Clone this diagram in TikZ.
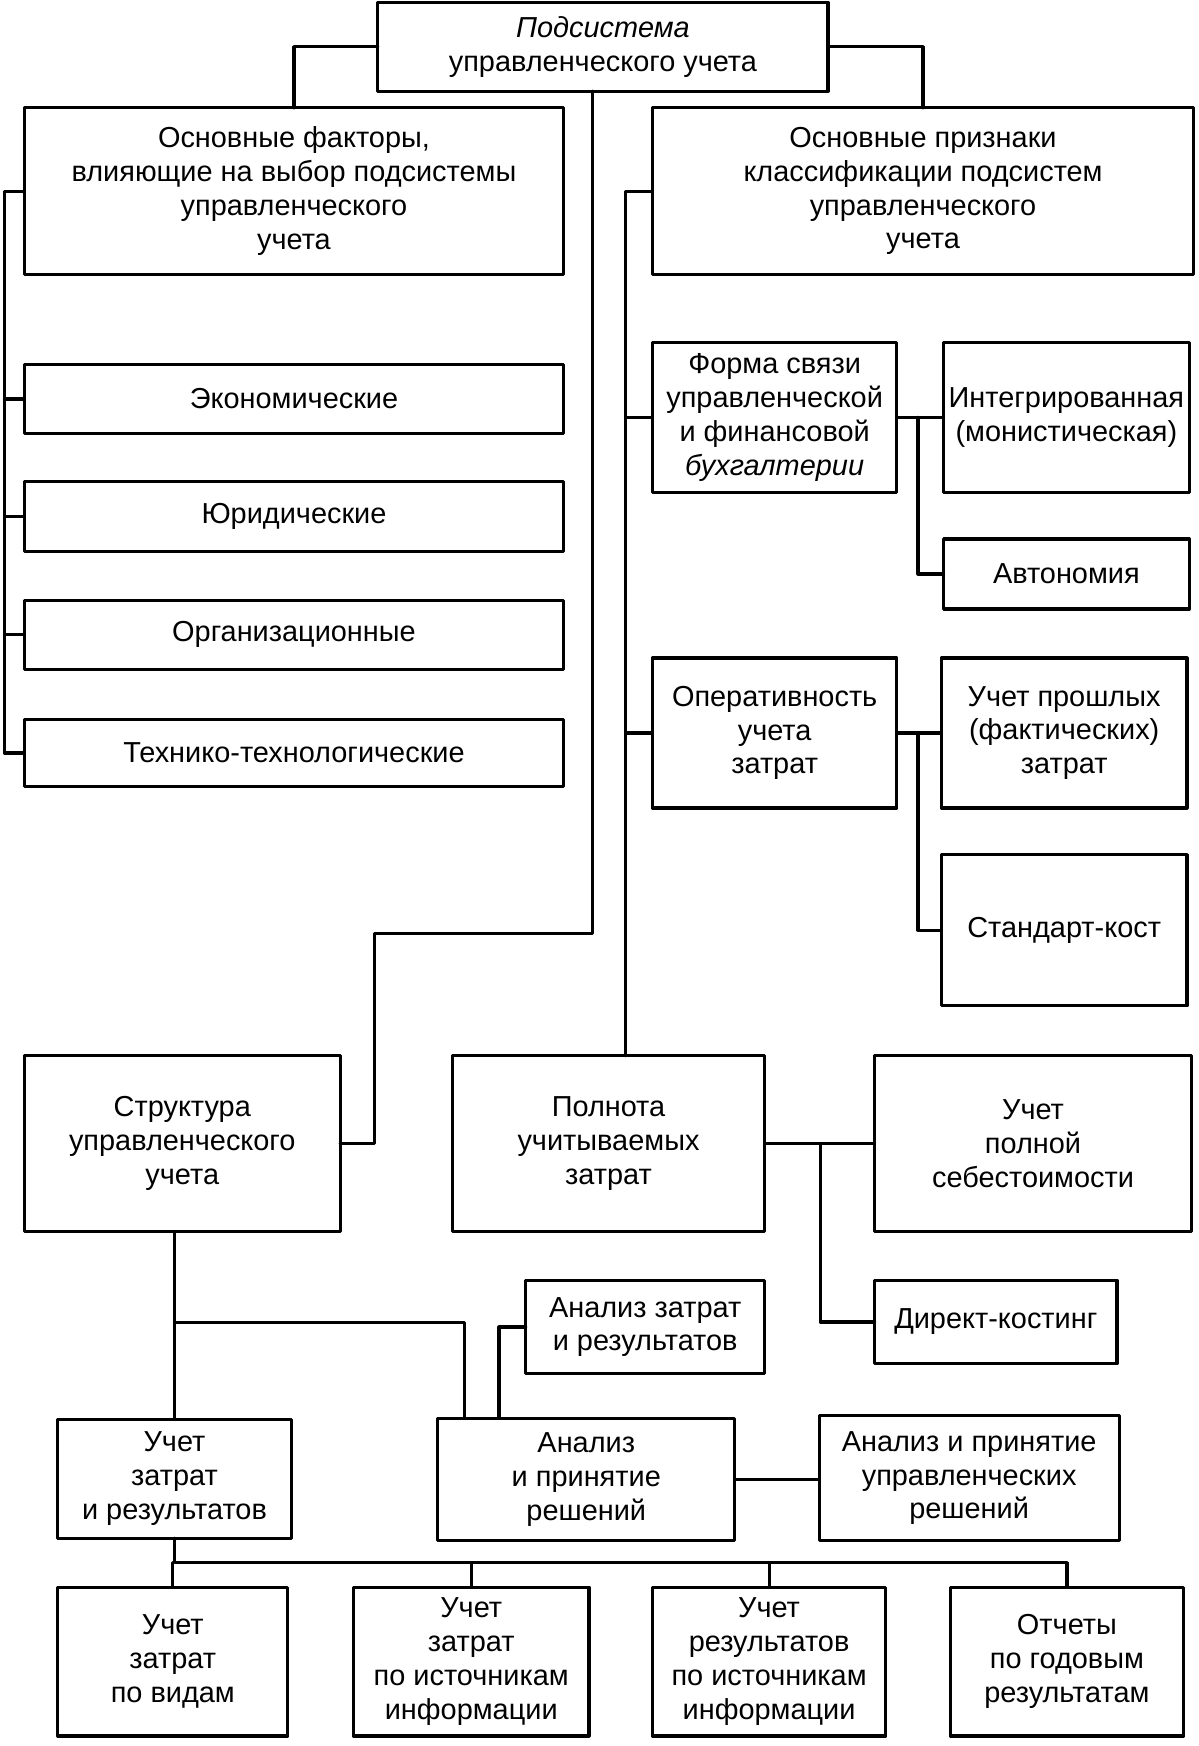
\documentclass[tikz,border=0pt]{standalone}
\usepackage{fontspec}
\setmainfont{Liberation Sans}
\begin{document}
\begin{tikzpicture}[x=0.2mm,y=-0.2mm, line join=round, line cap=round,
	box/.style={draw, line width=1.6pt, rectangle, align=center, anchor=north west, inner sep=2pt, outer sep=0pt, font=\fontsize{14.8}{17.3}\selectfont},
	sz/.style 2 args={minimum width=#1*0.2mm, minimum height=#2*0.2mm},
	link/.style={line width=1.6pt}]
	\useasboundingbox (0,0) rectangle (1078,1571);
	% top level
	\node[box,sz={405}{80}] (top) at (340,2) {\textit{Подсистема}\\управленческого учета};
	\node[box,sz={485}{150}] (fact) at (22,97) {Основные факторы,\\влияющие на выбор подсистемы\\управленческого\\учета};
	\node[box,sz={487}{150}] (cls) at (587,97) {Основные признаки\\классификации подсистем\\управленческого\\учета};
	% factors
	\node[box,sz={485}{62}] (econ) at (22,328) {Экономические};
	\node[box,sz={485}{63}] (legal) at (22,433) {Юридические};
	\node[box,sz={485}{62}] (org) at (22,540) {Организационные};
	\node[box,sz={485}{61}] (tech) at (22,647) {Технико-технологические};
	% classification
	\node[box,sz={220}{135}] (form) at (587,308) {Форма связи\\управленческой\\и финансовой\\\textit{бухгалтерии}};
	\node[box,sz={221}{135}] (integ) at (849,308) {Интегрированная\\(монистическая)};
	\node[box,sz={221}{63}] (auton) at (849,485) {Автономия};
	\node[box,sz={220}{135}] (oper) at (587,592) {Оперативность\\учета\\затрат};
	\node[box,sz={221}{135}] (past) at (847,592) {Учет прошлых\\(фактических)\\затрат};
	\node[box,sz={221}{136}] (stdc) at (847,769) {Стандарт-кост};
	\node[box,sz={284}{158}] (struct) at (22,950) {Структура\\управленческого\\учета};
	\node[box,sz={281}{158}] (poln) at (407,950) {Полнота\\учитываемых\\затрат};
	\node[box,sz={285}{158}] (full) at (787,950) {Учет\\полной\\себестоимости};
	\node[box,sz={218}{75}] (direct) at (787,1152) {Директ-костинг};
	% structure
	\node[box,sz={215}{84}] (azr) at (473,1152) {Анализ затрат\\и результатов};
	\node[box,sz={210}{107}] (ucz) at (52,1277) {Учет\\затрат\\и результатов};
	\node[box,sz={267}{110}] (an) at (394,1276) {Анализ\\и принятие\\решений};
	\node[box,sz={270}{112}] (adm) at (737,1274) {Анализ и принятие\\управленческих\\решений};
	\node[box,sz={207}{134}] (b1) at (52,1428) {Учет\\затрат\\по видам};
	\node[box,sz={212}{134}] (b2) at (318,1428) {Учет\\затрат\\по источникам\\информации};
	\node[box,sz={210}{134}] (b3) at (587,1428) {Учет\\результатов\\по источникам\\информации};
	\node[box,sz={210}{134}] (b4) at (855,1428) {Отчеты\\по годовым\\результатам};
	% bends
	\coordinate (lbus) at (4,0);
	\coordinate (rbus) at (563,0);
	\coordinate (c1) at (533,840);
	\coordinate (c2) at (337,840);
	\coordinate (fbr) at (826,0);
	\coordinate (pbr) at (738,0);
	\coordinate (a1) at (418,1190);
	\coordinate (a2) at (449,0);
	\coordinate (bb) at (0,1406);
	% connectors
	\draw[link] (top.west) -| (fact.north);
	\draw[link] (top.east) -| (cls.north);
	\draw[link] (top.south -| c1) -- (c1) -- (c2) |- (struct.east);
	\draw[link] (fact.west) -- (fact.west -| lbus) |- (tech.west);
	\foreach \n in {econ,legal,org}
		\draw[link] (\n.west) -- (\n.west -| lbus);
	\draw[link] (cls.west) -- (cls.west -| rbus) -- (rbus |- poln.north);
	\foreach \n in {form,oper}
		\draw[link] (\n.west) -- (\n.west -| rbus);
	\draw[link] (form.east) -- (integ.west);
	\draw[link] (form.east -| fbr) |- (auton.west);
	\draw[link] (oper.east) -- (past.west);
	\draw[link] (oper.east -| fbr) |- (stdc.west);
	\draw[link] (poln.east) -- (full.west);
	\draw[link] (poln.east -| pbr) |- (direct.west);
	\draw[link] (ucz.north |- struct.south) -- (ucz.north);
	\draw[link] (ucz.north |- a1) -- (a1) -- (a1 |- an.north);
	\draw[link] (azr.west) -| (a2 |- an.north);
	\draw[link] (an.east) -- (an.east -| adm.west);
	\draw[link] (ucz.south) -- (ucz.south |- bb) -- (b4.north |- bb) -- (b4.north);
	\foreach \n in {b1,b2,b3}
		\draw[link] (\n.north |- bb) -- (\n.north);
\end{tikzpicture}
\end{document}
